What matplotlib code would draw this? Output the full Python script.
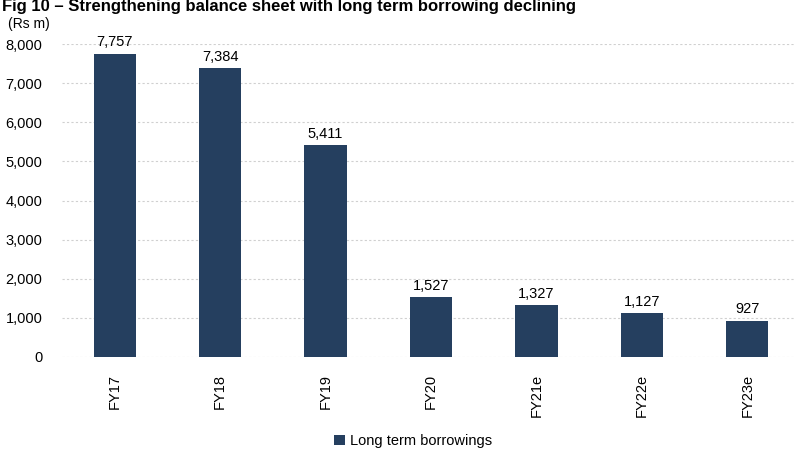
import matplotlib
matplotlib.use("Agg")
from matplotlib import pyplot as plt
import numpy as np

plt.rcParams['font.family'] = ['Liberation Sans', 'DejaVu Sans']

# data
years = ['FY17', 'FY18', 'FY19', 'FY20', 'FY21e', 'FY22e', 'FY23e']
borrowings = [7757, 7384, 5411, 1527, 1327, 1127, 927]

bar_color = '#253F5F'

fig = plt.figure(figsize=(7.95, 4.5), dpi=100)
ax = fig.add_axes([62/795, 93/450, 738/795, 313/450])

x = np.arange(len(years))
ax.bar(x, borrowings, width=0.4, color=bar_color, label='Long term borrowings', zorder=3)

for xi, v in zip(x, borrowings):
    ax.text(xi, v + 110, f'{v:,}', ha='center', va='bottom', fontsize=10.5)

ax.set_xlim(-0.5, len(years) - 0.5)
ax.set_ylim(0, 8000)
ax.set_yticks(range(0, 8001, 1000))
ax.set_yticklabels([f'{t:,}' for t in range(0, 8001, 1000)], fontsize=10.5)
ax.set_xticks(x)
ax.set_xticklabels(years, rotation=90, fontsize=10.5)
ax.tick_params(axis='y', length=0, pad=14)
ax.tick_params(axis='x', length=0, pad=12)

ax.grid(axis='y', color='#d0d0d0', linestyle=(0, (2, 2)), linewidth=0.8, zorder=0)
for s in ax.spines.values():
    s.set_visible(False)

fig.text(2/795, 1 - 7/450, 'Fig 10 \u2013 Strengthening balance sheet with long term borrowing declining',
         fontsize=12, fontweight='bold', ha='left', va='center')
fig.text(8/795, 1 - 24/450, '(Rs m)', fontsize=10, ha='left', va='center')

fig.legend(loc='center', bbox_to_anchor=(0.52, 1 - 441/450), frameon=False, fontsize=10.5,
           handlelength=0.7, handleheight=0.7, handletextpad=0.4)

fig.savefig('out.png', dpi=100)
